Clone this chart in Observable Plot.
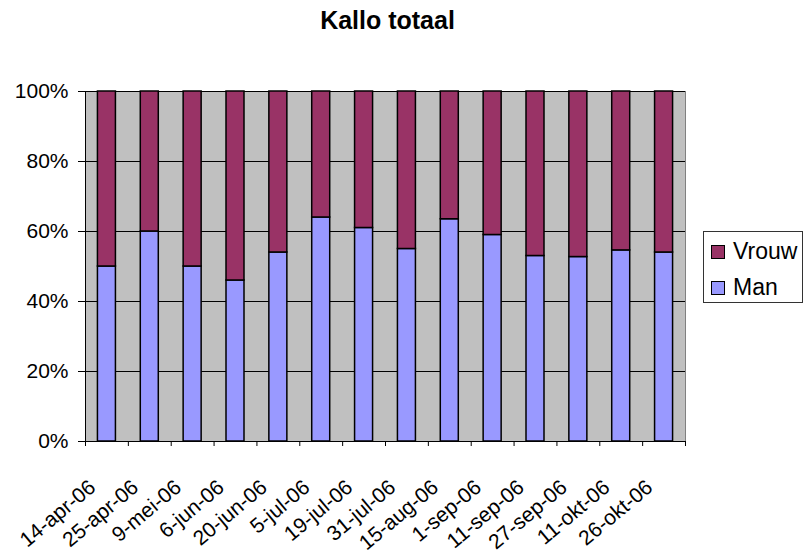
<!DOCTYPE html>
<html>
<head>
<meta charset="utf-8">
<script src="https://cdn.jsdelivr.net/npm/d3@7"></script>
<script src="https://cdn.jsdelivr.net/npm/@observablehq/plot@0.6"></script>
<style>
  html, body { margin: 0; padding: 0; background: #fff; }
  #wrap { position: relative; width: 803px; height: 554px; font-family: Arial, "Liberation Sans", sans-serif; overflow: hidden; }
  #title { position: absolute; left: 0; top: 8px; width: 775px; text-align: center; font-weight: bold; font-size: 25px; line-height: 25px; }
  #chart { position: absolute; left: 0; top: 0; }
  #legend { position: absolute; left: 703px; top: 231px; width: 98px; height: 70px; border: 1px solid #333; background: #fff; box-sizing: content-box; }
  .row { position: absolute; left: 7px; display: flex; align-items: center; font-size: 23px; line-height: 23px; }
  .sw { width: 12px; height: 12px; border: 1px solid #000; margin-right: 8px; }
</style>
</head>
<body>
<div id="wrap">
  <div id="chart"></div>
  <div id="title">Kallo totaal</div>
  <div id="legend"></div>
</div>
<script>
const dates = ["14-apr-06","25-apr-06","9-mei-06","6-jun-06","20-jun-06","5-jul-06","19-jul-06","31-jul-06","15-aug-06","1-sep-06","11-sep-06","27-sep-06","11-okt-06","26-okt-06"];
const man   = [50, 60, 50, 46, 54, 64, 61, 55, 63.5, 59, 53, 52.7, 54.6, 54];
const vrouw = [50, 40, 50, 54, 46, 36, 39, 45, 36.5, 41, 47, 47.3, 45.4, 46];
const series = ["Man", "Vrouw"];
const seriesColors = ["#9999FF", "#993366"];
const yTicks = [0, 20, 40, 60, 80, 100];
const yTickLabels = ["0%", "20%", "40%", "60%", "80%", "100%"];

const rows = dates.flatMap((d, i) => [
  {date: d, sex: "Man", value: man[i]},
  {date: d, sex: "Vrouw", value: vrouw[i]}
]);

const W = 803, H = 554, mL = 85, mR = 118, mT = 91, mB = 113;
const step = (W - mL - mR) / dates.length;

const chart = Plot.plot({
  width: W, height: H,
  marginLeft: mL, marginRight: mR, marginTop: mT, marginBottom: mB,
  style: {fontFamily: "Arial, 'Liberation Sans', sans-serif", background: "transparent", color: "black"},
  x: {domain: dates, paddingInner: 0.58, paddingOuter: 0.29, round: false, axis: null},
  y: {domain: [0, 100], axis: null},
  color: {domain: series, range: seriesColors},
  marks: [
    Plot.frame({fill: "#C0C0C0", stroke: "#808080"}),
    Plot.ruleY(yTicks, {stroke: "black", strokeWidth: 1}),
    Plot.ruleX([dates[0]], {dx: -step / 2, stroke: "black"}),
    Plot.barY(rows, {x: "date", y: "value", fill: "sex", stroke: "black", strokeWidth: 1.5, order: series}),
    Plot.ruleX(dates, {dx: -step / 2, insetTop: H - mT - mB, insetBottom: -5, stroke: "black"}),
    Plot.ruleX([dates[dates.length - 1]], {dx: step / 2, insetTop: H - mT - mB, insetBottom: -5, stroke: "black"}),
    Plot.axisY({ticks: yTicks, tickFormat: (d) => yTickLabels[yTicks.indexOf(d)], tickSize: 7, tickPadding: 10, fontSize: 21, label: null}),
    Plot.text(dates, {x: (d) => d, text: (d) => d, frameAnchor: "bottom", rotate: -40, textAnchor: "end", lineAnchor: "bottom", dx: -10, dy: 48, fontSize: 21, fill: "black"})
  ]
});
document.getElementById("chart").appendChild(chart);

const legend = document.getElementById("legend");
const legendItems = ["Vrouw", "Man"];
legendItems.forEach((name, i) => {
  const row = document.createElement("div");
  row.className = "row";
  row.style.top = (8 + i * 36) + "px";
  const sw = document.createElement("div");
  sw.className = "sw";
  sw.style.background = seriesColors[series.indexOf(name)];
  const t = document.createElement("span");
  t.textContent = name;
  row.appendChild(sw);
  row.appendChild(t);
  legend.appendChild(row);
});
</script>
</body>
</html>
